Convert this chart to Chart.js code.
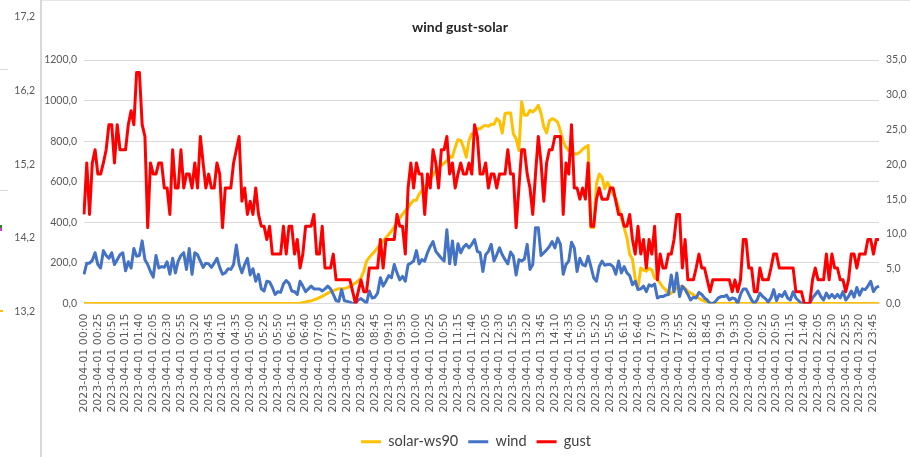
<!DOCTYPE html>
<html><head><meta charset="utf-8">
<script src="https://cdn.jsdelivr.net/npm/chart.js@4.4.1/dist/chart.umd.min.js"></script>
<style>
html,body{margin:0;padding:0;background:#fff;}
#wrap{position:relative;width:910px;height:457px;overflow:hidden;background:#fff;}
#c{position:absolute;left:0;top:0;}
.lab{position:absolute;left:0;width:35px;text-align:right;font-family:Lato,"Liberation Sans",sans-serif;font-size:10.5px;line-height:14px;color:#595959;}
.deco{position:absolute;}
#title{position:absolute;left:0;width:920px;top:17px;text-align:center;font-family:Lato,"Liberation Sans",sans-serif;font-weight:bold;font-size:14px;line-height:20px;color:#262626;}
</style></head>
<body>
<div id="wrap">
<canvas id="c" width="910" height="457"></canvas>
<div class="deco" style="left:40px;top:0;width:2px;height:457px;background:#D9D9D9;"></div>
<div class="deco" style="left:42px;top:0;width:868px;height:1px;background:#E4E4E4;"></div>
<div class="deco" style="left:0;top:69px;width:8px;height:1px;background:#D9D9D9;"></div>
<div class="deco" style="left:0;top:190px;width:8px;height:1px;background:#D9D9D9;"></div>
<div class="deco" style="left:0;top:225px;width:2px;height:3px;background:#3a7d2c;"></div>
<div class="deco" style="left:0;top:228px;width:2px;height:3px;background:#d23ad2;"></div>
<div class="deco" style="left:0;top:310px;width:3px;height:2px;background:#FFC000;"></div>
<div class="lab" style="top:9px;">17,2</div>
<div class="lab" style="top:83px;">16,2</div>
<div class="lab" style="top:157px;">15,2</div>
<div class="lab" style="top:230px;">14,2</div>
<div class="lab" style="top:304px;">13,2</div>
<div id="title">wind gust-solar</div>
</div>
<script>
// categories: 5-minute timestamps of 2023-04-01
const timeLabels = [];
for (let i = 0; i < 288; i++) {
  const m = i * 5;
  timeLabels.push('2023-04-01 ' + String(Math.floor(m / 60)).padStart(2, '0') + ':' + String(m % 60).padStart(2, '0'));
}

const leftTicks = [0, 200, 400, 600, 800, 1000, 1200];
const rightTicks = [0, 5, 10, 15, 20, 25, 30, 35];

const solar = [
  0,0,0,0,0,0,0,0,0,0, 0,0,0,0,0,0,0,0,0,0,
  0,0,0,0,0,0,0,0,0,0, 0,0,0,0,0,0,0,0,0,0,
  0,0,0,0,0,0,0,0,0,0, 0,0,0,0,0,0,0,0,0,0,
  0,0,0,0,0,0,0,0,0,0, 0,0,0,0,0,0,0,0,
  0,4,8,11,13,18,23,29,35,43,51,57,
  63,68,73,73,73,78,84,92,101,112,
  126,159,208,228,243,258,275,291,308,324,
  340,357,378,398,420,440,457,473,492,509,
  509,539,556,572,592,613,634,655,668,680,
  692,704,724,721,770,807,804,770,721,804,
  837,837,861,861,873,878,873,883,883,911,
  899,840,936,939,939,837,812,754,994,928,
  928,952,944,956,977,936,870,841,900,911,
  905,894,850,800,770,754,745,737,737,745,
  760,770,779,374,374,589,638,622,565,597,
  572,540,516,470,423,374,324,243,218,120,
  76,175,165,159,174,165,126,119,100,80,
  68,45,50,65,75,84,84,75,60,52,
  43,35,26,18,12,8,4,0,0,0,
  0,0,0,0,0,0,0,0,0,0, 0,0,0,0,0,0,0,0,0,0,
  0,0,0,0,0,0,0,0,0,0, 0,0,0,0,0,0,0,0,0,0,
  0,0,0,0,0,0,0,0,0,0, 0,0,0,0,0,0,0,0
];

const wind = [
  4.2,5.8,5.8,6.2,7.3,5.6,5.1,7.6,6.9,6.5,
  7.3,5.6,6.3,7.0,7.3,4.7,6.0,5.1,7.9,6.8,
  6.9,9.0,6.3,5.6,4.6,3.8,6.9,5.1,5.3,5.2,
  6.0,4.2,6.5,4.4,6.1,6.9,7.3,4.9,7.9,4.2,
  7.3,7.0,6.1,5.2,5.8,5.7,5.2,5.8,6.5,5.2,
  4.2,4.4,5.0,4.9,5.6,8.4,5.6,4.4,5.6,6.5,
  4.1,5.0,3.2,4.2,2.1,1.8,3.2,3.1,2.3,1.3,
  1.7,1.6,2.8,3.3,2.9,1.8,1.7,1.3,3.2,2.5,
  1.7,2.1,2.5,2.1,2.1,2.1,1.8,2.1,2.5,2.1,
  1.3,0.4,0.3,2.0,0.4,0.3,0.2,0.0,0.0,0.5,
  0.7,0.4,0.0,1.8,0.8,0.9,1.5,3.7,2.5,3.2,
  4.0,3.7,5.6,4.4,3.4,3.9,3.2,5.6,5.8,6.1,
  7.6,5.7,6.3,6.1,7.3,8.2,8.9,7.5,7.0,6.5,
  6.1,10.6,5.7,9.0,5.6,8.6,7.3,8.1,8.5,8.0,
  8.5,9.2,7.5,7.3,4.6,7.0,7.5,8.5,6.1,7.0,
  8.0,7.0,6.3,5.7,7.4,6.8,4.1,6.3,6.1,6.4,
  8.5,4.9,5.6,10.9,10.9,6.9,7.3,7.7,8.2,8.9,
  8.0,9.4,8.5,4.2,5.6,6.1,8.8,8.0,4.6,6.5,
  5.6,5.4,6.8,5.3,3.7,3.2,5.3,6.1,5.5,5.6,
  5.6,5.3,4.2,6.1,4.4,5.3,4.4,4.0,2.7,3.2,
  2.0,2.1,2.5,1.7,2.7,2.5,2.8,0.8,1.0,1.0,
  1.2,1.3,4.1,1.7,4.4,1.0,2.5,2.0,1.3,0.5,
  0.9,0.8,1.6,1.3,0.8,0.5,0.0,0.0,0.3,0.8,
  1.0,1.0,1.2,0.5,0.8,0.7,0.0,1.3,2.1,2.1,
  1.3,0.5,0.0,0.5,1.5,1.0,0.7,0.2,0.8,2.0,
  0.4,1.3,1.0,1.7,0.8,0.5,1.7,0.8,0.4,0.0,
  0.0,0.0,0.0,0.8,1.3,1.8,1.0,0.5,1.5,0.8,
  1.3,0.8,1.3,0.8,1.7,0.5,1.0,1.8,0.9,2.3,
  1.2,2.1,2.0,2.5,3.2,1.7,2.3,2.5
];

const gust = [
  12.8,20.2,12.8,20.2,22.1,18.6,18.6,20.2,22.1,25.7,
  25.7,20.2,25.7,22.1,22.1,22.1,25.7,27.7,25.7,33.2,
  33.2,25.7,24.0,10.9,20.2,18.6,18.6,20.2,20.2,16.6,
  16.6,12.8,22.1,16.6,16.6,22.1,16.6,18.6,18.6,16.6,
  20.2,16.6,24.0,20.2,16.6,18.6,16.6,16.6,20.2,18.6,
  10.9,16.6,16.6,16.6,20.2,22.1,24.0,14.7,16.6,12.8,
  14.7,12.8,16.6,12.8,11.1,11.1,9.2,11.1,7.1,7.1,
  7.1,7.1,11.1,7.1,11.1,11.1,7.1,9.2,5.1,7.1,
  11.1,11.1,11.1,12.8,7.1,7.1,11.1,5.1,5.1,5.1,
  7.1,3.4,3.4,3.4,3.4,3.4,3.4,1.7,0,1.7,
  3.4,1.7,1.7,5.1,5.1,5.1,5.1,9.2,5.1,9.2,
  9.2,9.2,9.2,12.8,11.1,11.1,7.1,16.6,20.2,16.6,
  20.2,18.6,18.6,12.8,18.6,16.6,22.1,20.2,16.6,22.1,
  22.1,24.0,18.6,20.2,16.6,18.6,20.2,18.6,18.6,20.2,
  18.6,25.7,24.0,18.6,18.6,20.2,16.6,18.6,18.6,16.6,
  18.6,18.6,18.6,22.1,18.6,18.6,10.9,16.6,22.1,22.1,
  18.6,16.6,12.8,18.6,24.0,20.2,14.7,20.2,22.1,22.1,
  24.0,24.0,24.0,12.8,20.2,18.6,25.7,16.6,16.6,15.0,
  16.6,15.0,20.2,11.1,11.1,15.0,16.6,15.0,15.0,15.0,
  16.6,16.6,14.7,12.8,12.8,11.1,11.1,12.8,9.2,7.1,
  11.1,7.1,9.2,5.1,9.2,7.1,11.1,3.4,7.1,5.1,
  5.1,7.1,7.1,9.2,12.8,12.8,5.1,9.2,3.4,3.4,
  3.4,5.1,7.1,5.1,5.1,3.4,1.7,3.4,3.4,3.4,
  3.4,3.4,3.4,3.4,1.7,3.4,1.7,3.4,9.2,9.2,
  5.1,5.1,1.7,1.7,5.1,3.4,3.4,3.4,5.1,7.1,
  7.1,5.1,5.1,5.1,5.1,5.1,5.1,1.7,1.7,1.7,
  0,0,0,3.4,5.1,3.4,3.4,3.4,7.1,3.4,
  7.1,5.1,5.1,3.4,3.4,1.7,3.4,7.1,7.1,5.1,
  7.1,7.1,7.1,9.2,9.2,7.1,9.2,9.2
];

const tickFont = 'Lato,"Liberation Sans",sans-serif';
const fmt = v => Number(v).toFixed(1).replace('.', ',');

new Chart(document.getElementById('c'), {
  type: 'line',
  data: {
    labels: timeLabels,
    datasets: [
      {label: 'solar-ws90', data: solar, yAxisID: 'y', borderColor: '#FFC000', backgroundColor: '#FFC000', borderWidth: 3, pointRadius: 0, tension: 0, order: 3, borderJoinStyle: 'round'},
      {label: 'wind', data: wind, yAxisID: 'y1', borderColor: '#4472C4', backgroundColor: '#4472C4', borderWidth: 3, pointRadius: 0, tension: 0, order: 2, borderJoinStyle: 'round'},
      {label: 'gust', data: gust, yAxisID: 'y1', borderColor: '#FF0000', backgroundColor: '#FF0000', borderWidth: 3, pointRadius: 0, tension: 0, order: 1, borderJoinStyle: 'round'}
    ]
  },
  options: {
    responsive: false,
    animation: false,
    devicePixelRatio: 1,
    layout: {padding: {left: 42, right: 0, top: 60, bottom: -2}},
    plugins: {
      title: {display: false},
      tooltip: {enabled: false},
      legend: {
        position: 'bottom',
        labels: {
          boxWidth: 20, boxHeight: 3, padding: 10, color: '#404040',
          font: {family: tickFont, size: 14.5},
          generateLabels: chart => chart.data.datasets.map((d, i) => ({
            text: d.label, fillStyle: d.borderColor, strokeStyle: d.borderColor,
            lineWidth: 0, hidden: false, datasetIndex: i, fontColor: '#404040'
          }))
        }
      }
    },
    scales: {
      x: {
        grid: {display: false, drawTicks: false},
        border: {display: true, color: '#D9D9D9'},
        ticks: {
          autoSkip: false, minRotation: 90, maxRotation: 90, padding: 10,
          color: '#595959', font: {family: '"DejaVu Sans",sans-serif', size: 11},
          callback: function (v, i) { return i % 5 === 0 ? this.getLabelForValue(v) : ''; }
        },
        afterFit: s => { s.height = 121; }
      },
      y: {
        position: 'left', min: leftTicks[0], max: leftTicks[leftTicks.length - 1],
        afterBuildTicks: s => { s.ticks = leftTicks.map(v => ({value: v})); },
        ticks: {padding: 7, color: '#595959', font: {family: tickFont, size: 10.5}, callback: fmt},
        grid: {color: '#D9D9D9', lineWidth: 1, drawTicks: false},
        border: {display: false},
        afterFit: s => { s.width = 42; }
      },
      y1: {
        position: 'right', min: rightTicks[0], max: rightTicks[rightTicks.length - 1],
        afterBuildTicks: s => { s.ticks = rightTicks.map(v => ({value: v})); },
        ticks: {padding: 7, color: '#595959', font: {family: tickFont, size: 10.5}, callback: fmt},
        grid: {drawOnChartArea: false, drawTicks: false},
        border: {display: false},
        afterFit: s => { s.width = 31; }
      }
    }
  }
});
</script>
</body></html>
